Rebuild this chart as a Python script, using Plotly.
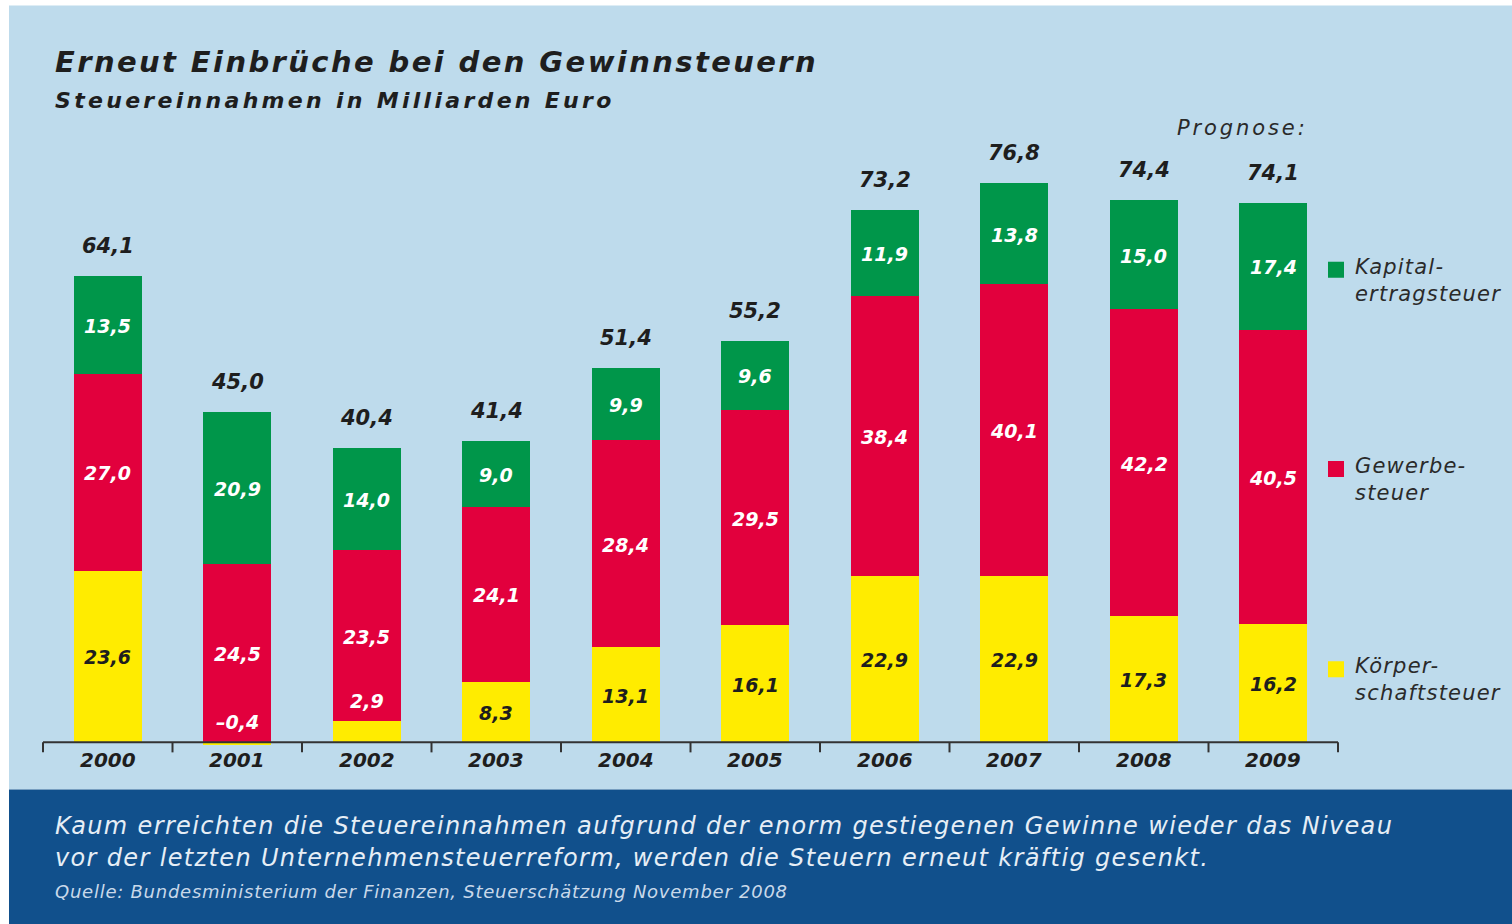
import plotly.graph_objects as go

years = ["2000", "2001", "2002", "2003", "2004", "2005", "2006", "2007", "2008", "2009"]
koerperschaftsteuer = [23.6, -0.4, 2.9, 8.3, 13.1, 16.1, 22.9, 22.9, 17.3, 16.2]
gewerbesteuer = [27.0, 24.5, 23.5, 24.1, 28.4, 29.5, 38.4, 40.1, 42.2, 40.5]
kapitalertragsteuer = [13.5, 20.9, 14.0, 9.0, 9.9, 9.6, 11.9, 13.8, 15.0, 17.4]
totals = [64.1, 45.0, 40.4, 41.4, 51.4, 55.2, 73.2, 76.8, 74.4, 74.1]

title = "Erneut Einbrüche bei den Gewinnsteuern"
subtitle = "Steuereinnahmen in Milliarden Euro"
prognose = "Prognose:"
legend_names = ["Kapital-<br>ertragsteuer", "Gewerbe-<br>steuer", "Körper-<br>schaftsteuer"]
caption1 = "Kaum erreichten die Steuereinnahmen aufgrund der enorm gestiegenen Gewinne wieder das Niveau"
caption2 = "vor der letzten Unternehmensteuerreform, werden die Steuern erneut kräftig gesenkt."
source = "Quelle: Bundesministerium der Finanzen, Steuerschätzung November 2008"

GREEN = "#00964A"
RED = "#E2003D"
YELLOW = "#FFEC00"
LIGHT = "#BEDBEC"
DARK = "#11508C"
TXT = "#1E1E1E"
FONT = "DejaVu Sans"

W, H = 1512, 924
L, R = 43, 174
Y_LO, Y_HI = -0.5, 80
PXU = 7.27  # pixels per unit
BASE = 742
T = BASE - Y_HI * PXU
B = H - (BASE - Y_LO * PXU)
PW = W - L - R
PH = H - T - B


def px(xp):
    return (xp - L) / PW


def py(yp):
    return (H - B - yp) / PH


def fmt(v):
    s = f"{abs(v):.1f}".replace(".", ",")
    return ("–" + s) if v < 0 else s


def sp(text, ls):
    if ls == 0:
        return text
    return "<br>".join(f'<span style="letter-spacing:{ls}px">{t}</span>' for t in text.split("<br>"))


xs = list(range(len(years)))
fig = go.Figure()
for name, vals, col in [("Körperschaftsteuer", koerperschaftsteuer, YELLOW),
                        ("Gewerbesteuer", gewerbesteuer, RED),
                        ("Kapitalertragsteuer", kapitalertragsteuer, GREEN)]:
    fig.add_trace(go.Bar(x=xs, y=vals, name=name, marker=dict(color=col, line=dict(width=0)),
                         width=0.525, showlegend=False, hoverinfo="x+y"))

ann = []
shapes = []
# backgrounds
shapes.append(dict(type="rect", xref="paper", yref="paper", x0=px(9), x1=px(W), y0=py(6), y1=py(789),
                   fillcolor=LIGHT, line=dict(width=0), layer="below"))
shapes.append(dict(type="rect", xref="paper", yref="paper", x0=px(9), x1=px(W), y0=py(789), y1=py(H),
                   fillcolor=DARK, line=dict(width=0), layer="below"))

# segment labels
for i in xs:
    k, g, c = koerperschaftsteuer[i], gewerbesteuer[i], kapitalertragsteuer[i]
    kpos = max(k, 0)
    if k >= 5:
        ann.append(dict(x=i, y=kpos / 2, text=fmt(k), font=dict(color=TXT, size=19), yshift=-1))
    else:
        ann.append(dict(x=i, y=kpos, text=fmt(k), font=dict(color="white", size=19), yshift=20))
    ann.append(dict(x=i, y=kpos + g / 2, text=fmt(g), font=dict(color="white", size=19), yshift=-1))
    ann.append(dict(x=i, y=kpos + g + c / 2, text=fmt(c), font=dict(color="white", size=19), yshift=-1))
    ann.append(dict(x=i, y=kpos + g + c, text=fmt(totals[i]), font=dict(color=TXT, size=21), yshift=30))

for a in ann:
    a.update(xref="x", yref="y", showarrow=False, xanchor="center", yanchor="middle")
    a["font"].update(family=FONT, style="italic", weight="bold")

# year tick labels
for i in xs:
    ann.append(dict(xref="x", yref="paper", x=i, y=py(760), text=years[i], showarrow=False,
                    yanchor="middle", font=dict(family=FONT, size=20, color=TXT, style="italic", weight="bold")))

# axis line and ticks
shapes.append(dict(type="line", xref="paper", yref="paper", x0=0, x1=1, y0=py(BASE), y1=py(BASE),
                   line=dict(color="#333333", width=2)))
for j in range(len(years) + 1):
    xx = j / len(years)
    shapes.append(dict(type="line", xref="paper", yref="paper", x0=xx, x1=xx, y0=py(BASE), y1=py(752),
                       line=dict(color="#333333", width=2)))

# legend
for name, col, yc in zip(legend_names, [GREEN, RED, YELLOW], [270, 469, 669]):
    shapes.append(dict(type="rect", xref="paper", yref="paper", x0=px(1328), x1=px(1344),
                       y0=py(yc - 8), y1=py(yc + 8), fillcolor=col, line=dict(width=0)))
    ann.append(dict(xref="paper", yref="paper", x=px(1353), y=py(yc - 17), text=sp(name, 1.2), showarrow=False,
                    xanchor="left", yanchor="top", align="left",
                    font=dict(family=FONT, size=21, color="#2A2A2A", style="italic")))

# titles
ann.append(dict(xref="paper", yref="paper", x=px(53), y=py(63), text=sp(title, 2.4), showarrow=False,
                xanchor="left", yanchor="middle",
                font=dict(family=FONT, size=29, color=TXT, style="italic", weight="bold")))
ann.append(dict(xref="paper", yref="paper", x=px(53), y=py(101), text=sp(subtitle, 3.3), showarrow=False,
                xanchor="left", yanchor="middle",
                font=dict(family=FONT, size=22, color=TXT, style="italic", weight="bold")))
ann.append(dict(xref="paper", yref="paper", x=px(1310), y=py(128), text=sp(prognose, 2.9), showarrow=False,
                xanchor="right", yanchor="middle",
                font=dict(family=FONT, size=21, color="#2A2A2A", style="italic")))
# caption
for txt, yc in [(caption1, 826), (caption2, 857)]:
    ann.append(dict(xref="paper", yref="paper", x=px(53), y=py(yc), text=sp(txt, 1.35), showarrow=False,
                    xanchor="left", yanchor="middle",
                    font=dict(family=FONT, size=24, color="#E6EEF6", style="italic")))
ann.append(dict(xref="paper", yref="paper", x=px(53), y=py(891), text=sp(source, 0.75), showarrow=False,
                xanchor="left", yanchor="middle",
                font=dict(family=FONT, size=18, color="#C9D9EA", style="italic")))

fig.update_layout(
    width=W, height=H,
    margin=dict(l=L, r=R, t=T, b=B, pad=0),
    paper_bgcolor="white", plot_bgcolor="rgba(0,0,0,0)",
    barmode="relative", bargap=0,
    xaxis=dict(range=[-0.5, len(years) - 0.5], showgrid=False, zeroline=False, showticklabels=False,
               ticks="", fixedrange=True),
    yaxis=dict(range=[Y_LO, Y_HI], showgrid=False, zeroline=False, showticklabels=False,
               ticks="", fixedrange=True),
    shapes=shapes, annotations=ann, showlegend=False,
)

fig.write_html("out.html", config={"displayModeBar": False},
               post_script="document.body.style.margin='0';document.body.style.overflow='hidden';")
